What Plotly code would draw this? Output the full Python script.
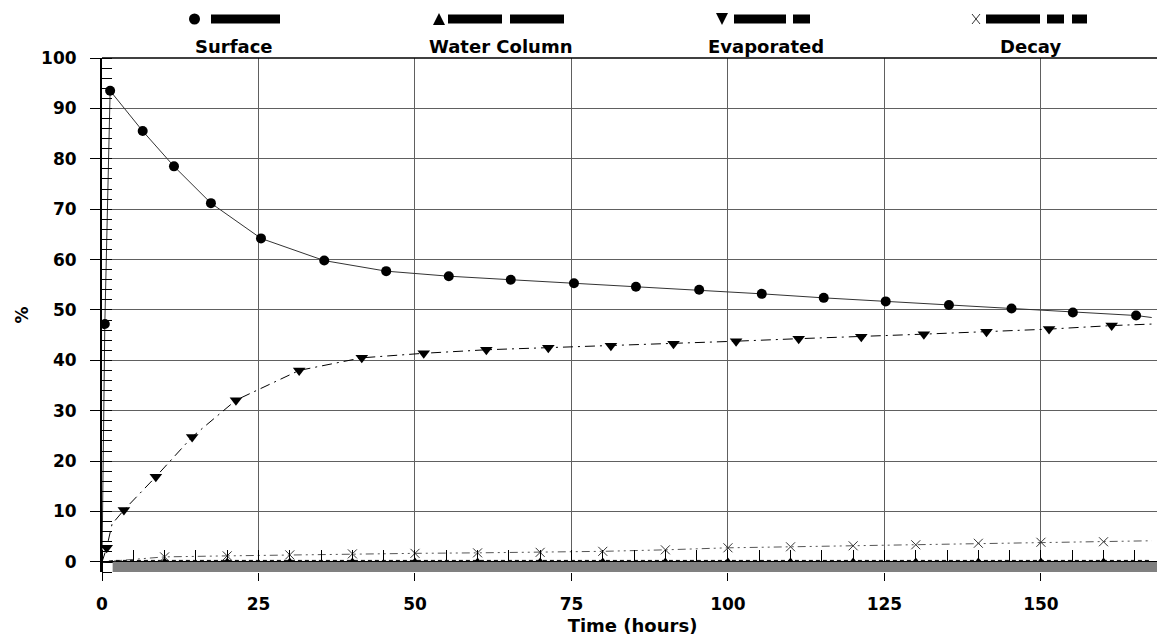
import plotly.graph_objects as go

# ---------------- data ----------------
surface_line_t = [0.0, 0.45, 1.3, 6.5, 11.5, 17.4, 25.4, 35.5, 45.4, 55.4, 65.3, 75.4, 85.3,
                  95.4, 105.4, 115.3, 125.2, 135.3, 145.3, 155.1, 165.2, 167.7]
surface_line_v = [0.0, 47.2, 93.5, 85.5, 78.5, 71.2, 64.2, 59.8, 57.7, 56.7, 56.0, 55.3, 54.6,
                  54.0, 53.2, 52.4, 51.7, 51.0, 50.3, 49.5, 48.9, 48.5]
surface_mark_t = [0.45, 1.3, 6.5, 11.5, 17.4, 25.4, 35.5, 45.4, 55.4, 65.3, 75.4, 85.3,
                  95.4, 105.4, 115.3, 125.2, 135.3, 145.3, 155.1, 165.2]
surface_mark_v = [47.2, 93.5, 85.5, 78.5, 71.2, 64.2, 59.8, 57.7, 56.7, 56.0, 55.3, 54.6,
                  54.0, 53.2, 52.4, 51.7, 51.0, 50.3, 49.5, 48.9]

evap_line_t = [0.0, 0.75, 1.6, 3.5, 8.6, 14.4, 21.4, 31.5, 41.5, 51.4, 61.4, 71.3, 81.3, 91.3,
               101.3, 111.3, 121.3, 131.3, 141.3, 151.3, 161.3, 167.7]
evap_line_v = [0.0, 2.8, 7.5, 10.3, 16.9, 24.8, 32.1, 38.0, 40.5, 41.4, 42.1, 42.5, 42.9, 43.3,
               43.8, 44.3, 44.7, 45.2, 45.7, 46.2, 46.9, 47.2]
evap_mark_t = [0.75, 3.5, 8.6, 14.4, 21.4, 31.5, 41.5, 51.4, 61.4, 71.3, 81.3, 91.3,
               101.3, 111.3, 121.3, 131.3, 141.3, 151.3, 161.3]
evap_mark_v = [2.8, 10.3, 16.9, 24.8, 32.1, 38.0, 40.5, 41.4, 42.1, 42.5, 42.9, 43.3,
               43.8, 44.3, 44.7, 45.2, 45.7, 46.2, 46.9]

decay_line_t = [0.0, 5.0, 10, 20, 30, 40, 50, 60, 70, 80, 90, 100, 110, 120, 130, 140, 150, 160, 167.7]
decay_line_v = [0.0, 0.5, 1.0, 1.2, 1.4, 1.6, 1.7, 1.8, 1.9, 2.1, 2.4, 2.8, 3.0, 3.2, 3.4, 3.7, 3.9, 4.0, 4.2]
decay_mark_t = [10, 20, 30, 40, 50, 60, 70, 80, 90, 100, 110, 120, 130, 140, 150, 160]
decay_mark_v = [1.0, 1.2, 1.4, 1.6, 1.7, 1.8, 1.9, 2.1, 2.4, 2.8, 3.0, 3.2, 3.4, 3.7, 3.9, 4.0]

water_line_t = [0.0, 2.0, 10, 20, 30, 40, 50, 60, 70, 80, 90, 100, 110, 120, 130, 140, 150, 160, 167.7]
water_line_v = [0.0, 0.3, 0.3, 0.3, 0.3, 0.3, 0.3, 0.3, 0.3, 0.3, 0.3, 0.3, 0.3, 0.3, 0.3, 0.3, 0.3, 0.3, 0.3]
water_mark_t = [10, 20, 30, 40, 50, 60, 70, 80, 90, 100, 110, 120, 130, 140, 150, 160]
water_mark_v = [0.3, 0.3, 0.3, 0.3, 0.3, 0.3, 0.3, 0.3, 0.3, 0.3, 0.3, 0.3, 0.3, 0.3, 0.3, 0.3]

x_ticks = [0, 25, 50, 75, 100, 125, 150]
y_ticks = [0, 10, 20, 30, 40, 50, 60, 70, 80, 90, 100]
legend_names = ["Surface", "Water Column", "Evaporated", "Decay"]

# ---------------- layout geometry ----------------
OFF = 8                      # page body margin of the html page
W, H = 1165 - OFF, 637 - OFF
ML, MR, MT, MB = 102 - OFF, 2, 58 - OFF, 65
X_MAX = 169.5
Y_MIN, Y_MAX = -2, 100
FONT = "DejaVu Sans"


def pp(x, y):
    """page pixel -> paper coordinates"""
    x -= OFF
    y -= OFF
    return (x - ML) / (W - ML - MR), (H - MB - y) / (H - MT - MB)


fig = go.Figure()

# lines
fig.add_trace(go.Scatter(x=water_line_t, y=water_line_v, mode="lines",
                         line=dict(color="black", width=1, dash="4px,3px"),
                         showlegend=False, hoverinfo="skip"))
fig.add_trace(go.Scatter(x=decay_line_t, y=decay_line_v, mode="lines",
                         line=dict(color="#555555", width=1, dash="8px,4px,2px,4px,2px,4px"),
                         showlegend=False, hoverinfo="skip"))
fig.add_trace(go.Scatter(x=evap_line_t, y=evap_line_v, mode="lines",
                         line=dict(color="black", width=1, dash="10px,5px,2px,5px"),
                         showlegend=False, hoverinfo="skip"))
fig.add_trace(go.Scatter(x=surface_line_t, y=surface_line_v, mode="lines",
                         line=dict(color="#333333", width=1),
                         showlegend=False, hoverinfo="skip"))

# markers
fig.add_trace(go.Scatter(x=water_mark_t, y=water_mark_v, mode="markers", name=legend_names[1],
                         marker=dict(symbol="triangle-up", size=6, color="black"),
                         showlegend=False))
fig.add_trace(go.Scatter(x=decay_mark_t, y=decay_mark_v, mode="markers", name=legend_names[3],
                         marker=dict(symbol="x-thin-open", size=9, color="#333333",
                                     line=dict(color="#333333", width=1)),
                         showlegend=False))
fig.add_trace(go.Scatter(x=evap_mark_t, y=evap_mark_v, mode="markers", name=legend_names[2],
                         marker=dict(symbol="triangle-down", size=11, color="black"),
                         showlegend=False))
fig.add_trace(go.Scatter(x=surface_mark_t, y=surface_mark_v, mode="markers", name=legend_names[0],
                         marker=dict(symbol="circle", size=10, color="black"),
                         showlegend=False))

shapes = []
# gray base bar under zero
shapes.append(dict(type="rect", xref="x", yref="y", x0=1.7, x1=X_MAX, y0=Y_MIN, y1=0,
                   fillcolor="#808080", line=dict(width=0), layer="above"))
# top border
shapes.append(dict(type="line", xref="paper", yref="paper", x0=0, x1=1, y0=1, y1=1,
                   line=dict(color="black", width=1.5)))


def bar(x0, x1, y):
    a = pp(x0, y)
    b = pp(x1, y)
    shapes.append(dict(type="line", xref="paper", yref="paper", x0=a[0], y0=a[1],
                       x1=b[0], y1=b[1], line=dict(color="black", width=9)))


def path(points, width=0):
    s = ""
    for i, (px, py) in enumerate(points):
        qx, qy = pp(px, py)
        s += ("M" if i == 0 else "L") + f"{qx:.5f},{qy:.5f} "
    s += "Z"
    shapes.append(dict(type="path", xref="paper", yref="paper", path=s,
                       fillcolor="black", line=dict(color="black", width=width)))


LY = 19
# Surface: circle + solid bar
c0 = pp(189, LY - 5.5)
c1 = pp(200, LY + 5.5)
shapes.append(dict(type="circle", xref="paper", yref="paper", x0=c0[0], y0=c0[1], x1=c1[0], y1=c1[1],
                   fillcolor="black", line=dict(color="black", width=0)))
bar(211, 280, LY)
# Water column: triangle up + dashes
path([(433, LY + 6), (445, LY + 6), (439, LY - 6)])
bar(448, 502, LY)
bar(510, 564, LY)
# Evaporated: triangle down + dash dot
path([(716, LY - 6), (728, LY - 6), (722, LY + 6)])
bar(734, 786, LY)
bar(793, 810, LY)
# Decay: x + dash dot dot
for (a, b) in [((972, LY - 5), (980, LY + 5)), ((972, LY + 5), (980, LY - 5))]:
    p0, p1 = pp(*a), pp(*b)
    shapes.append(dict(type="line", xref="paper", yref="paper", x0=p0[0], y0=p0[1], x1=p1[0], y1=p1[1],
                       line=dict(color="#333333", width=1)))
bar(986, 1040, LY)
bar(1047, 1064, LY)
bar(1072, 1087, LY)

annotations = []
for name, cx in zip(legend_names, [234, 500, 766, 1030]):
    ax, ay = pp(cx, 46)
    annotations.append(dict(text=name, xref="paper", yref="paper", x=ax, y=ay,
                            xanchor="center", yanchor="middle", showarrow=False,
                            font=dict(family=FONT, size=18, color="black", weight="bold")))

fig.update_layout(
    width=W, height=H, autosize=False,
    margin=dict(l=ML, r=MR, t=MT, b=MB, pad=0),
    paper_bgcolor="white", plot_bgcolor="white",
    shapes=shapes, annotations=annotations,
    showlegend=False,
    xaxis=dict(
        range=[0, X_MAX], tickvals=x_ticks, ticktext=[str(v) for v in x_ticks],
        ticks="outside", ticklen=8, tickwidth=1, tickcolor="black",
        showgrid=True, gridcolor="#606060", gridwidth=1,
        showline=False, zeroline=False,
        tickfont=dict(family=FONT, size=17, color="black", weight="bold"),
        ticklabelstandoff=9,
        minor=dict(dtick=5, tick0=0, ticks="inside", ticklen=22, tickcolor="black",
                   tickwidth=1, showgrid=False),
        title=dict(text="Time (hours)", standoff=5,
                   font=dict(family=FONT, size=18, color="black", weight="bold")),
        automargin=False, fixedrange=True,
    ),
    yaxis=dict(
        range=[Y_MIN, Y_MAX], tickvals=y_ticks, ticktext=[str(v) for v in y_ticks],
        ticks="outside", ticklen=10, tickwidth=1, tickcolor="black",
        showgrid=True, gridcolor="#606060", gridwidth=1,
        showline=True, linecolor="black", linewidth=2,
        zeroline=True, zerolinecolor="black", zerolinewidth=1.5,
        tickfont=dict(family=FONT, size=17, color="black", weight="bold"),
        ticklabelstandoff=10,
        minor=dict(dtick=2, tick0=0, ticks="inside", ticklen=10, tickcolor="black",
                   tickwidth=1, showgrid=False),
        title=dict(text="%", standoff=8,
                   font=dict(family=FONT, size=17, color="black", weight="bold")),
        automargin=False, fixedrange=True,
    ),
)

fig.write_html("out.html")
